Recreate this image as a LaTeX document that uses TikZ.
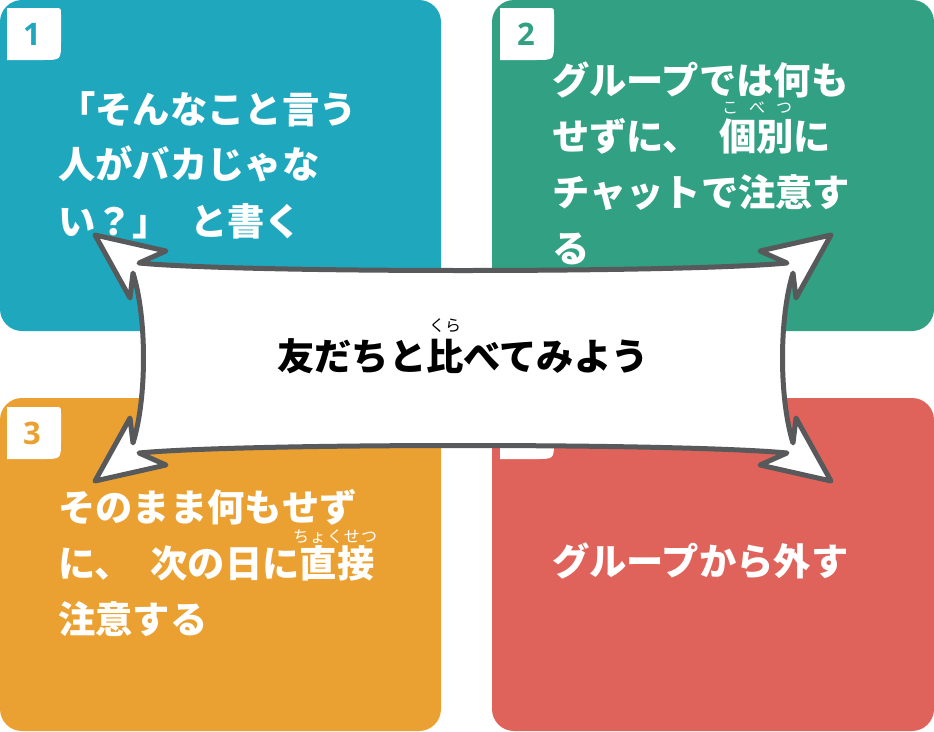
\documentclass[tikz,border=0pt]{standalone}
\usepackage{fontspec}
\newfontfamily\jp{Noto Sans CJK JP}[BoldFont={Noto Sans CJK JP Black}]
\newfontfamily\numfont{Open Sans}[BoldFont={Open Sans Bold}]
\definecolor{qteal}{HTML}{1FA8BD}
\definecolor{qgreen}{HTML}{31A083}
\definecolor{qorange}{HTML}{EBA131}
\definecolor{qred}{HTML}{E0635B}
\definecolor{rim}{HTML}{58595B}

\begin{document}
\begin{tikzpicture}[x=1pt, y=-1pt,
    jpline/.style={anchor=base west, inner sep=0pt, text=white, font=\jp\bfseries\fontsize{37.3}{40}\selectfont},
    ruby/.style={anchor=base, inner sep=0pt, text=white, font=\jp\fontsize{16}{17}\selectfont},
    num/.style={inner sep=0pt, font=\numfont\bfseries\fontsize{31}{31}\selectfont},
    quad/.style={rounded corners=22pt},
    tab/.style={fill=white}]
    \useasboundingbox (0,0) rectangle (934,731);

    \fill[quad, qteal]   (0,0)     rectangle (441,331);
    \fill[quad, qgreen]  (492,0)   rectangle (934,331);
    \fill[quad, qorange] (0,398)   rectangle (441,731);
    \fill[quad, qred]    (492,398) rectangle (934,731);

    \fill[tab, shift={(7,8)}]     (0,0) -- (48,0) .. controls (54,0) .. (54,6) -- (54,34) .. controls (54,52) .. (36,52) -- (0,52) -- cycle;
    \fill[tab, shift={(500,8)}]   (0,0) -- (48,0) .. controls (54,0) .. (54,6) -- (54,34) .. controls (54,52) .. (36,52) -- (0,52) -- cycle;
    \fill[tab, shift={(7,407)}]   (0,0) -- (48,0) .. controls (54,0) .. (54,6) -- (54,34) .. controls (54,52) .. (36,52) -- (0,52) -- cycle;
    \fill[tab, shift={(500,407)}] (0,0) -- (48,0) .. controls (54,0) .. (54,6) -- (54,34) .. controls (54,52) .. (36,52) -- (0,52) -- cycle;

    \node at (32,34)   (n1) [num, text=qteal]   {1};
    \node at (526,34)  (n2) [num, text=qgreen]  {2};
    \node at (32,433)  (n3) [num, text=qorange] {3};
    \node at (526,433) (n4) [num, text=qred]    {4};

    \node at (58,123) (a1) [jpline] {「そんなこと言う};
    \node at (58,178) (a2) [jpline] {人がバカじゃな};
    \node at (58,235) (a3) [jpline] {い？」\hspace{20pt}と書く};

    \node at (552,94)  (b1) [jpline] {グループでは何も};
    \node at (552,150) (b2) [jpline] {せずに、\hspace{19pt}個別に};
    \node at (552,206) (b3) [jpline] {チャットで注意す};
    \node at (552,262) (b4) [jpline] {る};
    \node at (757,113) (b5) [ruby] {\makebox[70pt]{こ\hfill べ\hfill つ}};

    \node at (58,521) (c1) [jpline] {そのまま何もせず};
    \node at (58,577) (c2) [jpline] {に、\hspace{19pt}次の日に直接};
    \node at (58,633) (c3) [jpline] {注意する};
    \node at (335,542) (c4) [ruby] {\makebox[84pt]{ち\hfill ょ\hfill く\hfill せ\hfill つ}};

    \node at (552,575) (d1) [jpline] {グループから外す};

    \begin{scope}[shift={(463,358)}]
        \filldraw[fill=white, draw=rim, line width=5pt, line join=round]
            (-368,-123) -- (-297,-107) -- (-324,-95)
            .. controls (-220,-85) and (220,-85) .. (324,-95)
            -- (297,-107) -- (368,-123) -- (333,-60) -- (330,-85)
            .. controls (316,-40) and (316,40) .. (330,85)
            -- (333,60) -- (368,123) -- (297,107) -- (324,95)
            .. controls (220,85) and (-220,85) .. (-324,95)
            -- (-297,107) -- (-368,123) -- (-333,60) -- (-330,85)
            .. controls (-316,40) and (-316,-40) .. (-330,-85)
            -- (-333,-60) -- cycle;
    \end{scope}

    \node at (463,370) (title) [jpline, anchor=base, text=black] {友だちと比べてみよう};
    \node at (445,331) (kura) [ruby, text=black] {くら};
\end{tikzpicture}
\end{document}
